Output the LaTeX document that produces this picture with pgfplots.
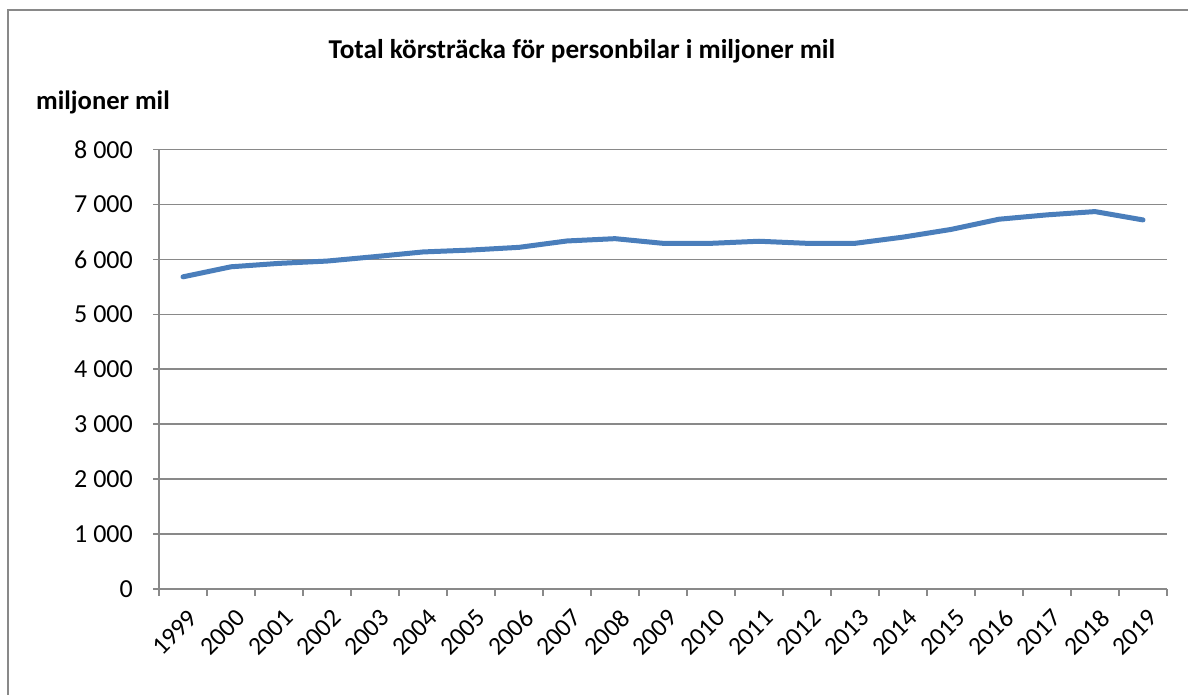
\documentclass[border=0pt]{standalone}
\usepackage{pgfplots}
\pgfplotsset{compat=1.18}
\usepackage{fontspec}
\setmainfont{Carlito}
\definecolor{linec}{HTML}{4A7EBB}
\definecolor{gridc}{HTML}{898989}
\pgfplotstableread{
year val
1999 5682
2000 5865
2001 5927
2002 5969
2003 6050
2004 6135
2005 6170
2006 6219
2007 6335
2008 6377
2009 6292
2010 6292
2011 6330
2012 6292
2013 6292
2014 6405
2015 6545
2016 6731
2017 6810
2018 6870
2019 6718
}\datatable
\begin{document}
\begin{tikzpicture}[x=1bp,y=1bp]
\path[use as bounding box] (-159,-106) rectangle (1029,589);
\draw[gridc, line width=2bp] (-151,-106) -- (-151,579) -- (1029,579);
\begin{axis}[
  at={(0,0)}, anchor=south west,
  scale only axis, width=1008bp, height=439.5bp,
  xmin=1998.5, xmax=2019.5, ymin=0, ymax=8000,
  axis lines*=left,
  axis line style={gridc, line width=1.5bp, -},
  xtick={1999,...,2019},
  xticklabels={1999,2000,2001,2002,2003,2004,2005,2006,2007,2008,2009,2010,2011,2012,2013,2014,2015,2016,2017,2018,2019},
  minor xtick={1998.5,1999.5,...,2019.5},
  major x tick style={draw=none},
  minor x tick style={gridc, line width=1.5bp},
  major y tick style={gridc, line width=1.5bp},
  tick align=outside,
  major tick length=6bp,
  minor tick length=7bp,
  ytick={0,1000,...,8000},
  yticklabels={0,1 000,2 000,3 000,4 000,5 000,6 000,7 000,8 000},
  ymajorgrids,
  grid style={gridc, line width=1.5bp},
  yticklabel style={font=\fontsize{26bp}{30bp}\selectfont, inner sep=0pt, anchor=east, xshift=-20bp},
  xticklabel style={font=\fontsize{25.5bp}{29bp}\selectfont, inner sep=0pt, rotate=45, anchor=east, xshift=-6bp, yshift=-20.7bp},
  clip=false,
]
\addplot[linec, line width=5bp, line join=round, line cap=round] table[x=year, y=val] {\datatable};
\end{axis}
\node[anchor=base, inner sep=0pt, font=\bfseries\fontsize{27.2bp}{31bp}\selectfont] at (423,530.7) {Total körsträcka för personbilar i miljoner mil};
\node[anchor=base west, inner sep=0pt, font=\bfseries\fontsize{26.6bp}{30bp}\selectfont] at (-123,479) {miljoner mil};
\end{tikzpicture}
\end{document}
